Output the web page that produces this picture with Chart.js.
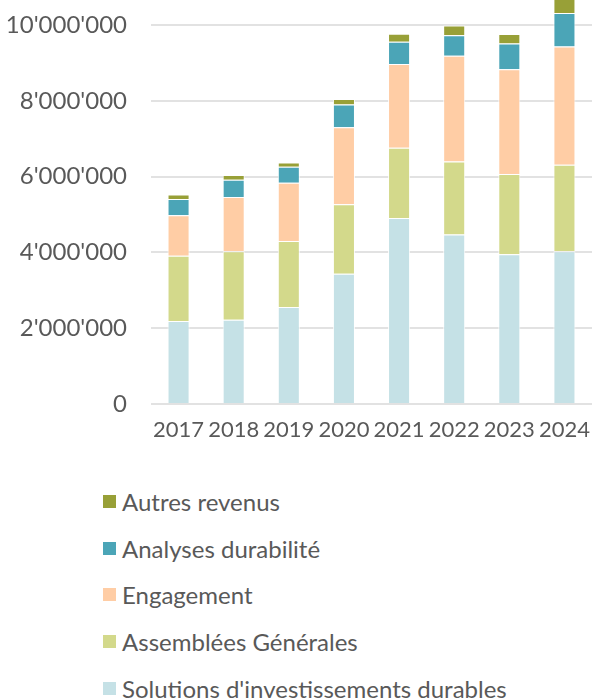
<!DOCTYPE html>
<html>
<head>
<meta charset="utf-8">
<script src="https://cdn.jsdelivr.net/npm/chart.js@4.4.1/dist/chart.umd.min.js"></script>
<style>
  html, body { margin: 0; padding: 0; background: #fff; }
  #wrap { position: relative; width: 592px; height: 698px; overflow: hidden; }
  #box { position: absolute; left: 0; top: 0; width: 592px; height: 450px; }
  #legend { position: absolute; left: 103px; top: 478px; font-family: Lato, "Open Sans", sans-serif; font-size: 24px; color: #595959; }
  .item { display: flex; align-items: center; height: 46.75px; white-space: nowrap; }
  .sw { width: 13px; height: 13px; margin-right: 6px; flex: none; }
</style>
</head>
<body>
<div id="wrap">
  <div id="box"><canvas id="chart"></canvas></div>
  <div id="legend"></div>
</div>
<script>
const years = ["2017", "2018", "2019", "2020", "2021", "2022", "2023", "2024"];

// values (CHF)
const solutions = [2190000, 2220000, 2560000, 3440000, 4910000, 4470000, 3950000, 4030000];
const assemblees = [1720000, 1810000, 1740000, 1830000, 1850000, 1930000, 2120000, 2280000];
const engagement = [1070000, 1430000, 1540000, 2030000, 2210000, 2790000, 2760000, 3120000];
const analyses = [430000, 460000, 420000, 600000, 590000, 540000, 680000, 890000];
const autres = [120000, 120000, 110000, 150000, 210000, 260000, 250000, 450000];

const yTicks = [0, 2000000, 4000000, 6000000, 8000000, 10000000];

const COLORS = {
  solutions: "#C5E1E6",
  assemblees: "#D3D98B",
  engagement: "#FFCDA5",
  analyses: "#4BA5B7",
  autres: "#98A037",
  text: "#595959",
  grid: "#E2E2E2"
};

const FONT = 'Lato, "Open Sans", sans-serif';

function fmt(v) {
  return String(v).replace(/\B(?=(\d{3})+(?!\d))/g, "'");
}

function barSet(label, data, color) {
  return {
    label,
    data,
    backgroundColor: color,
    borderColor: "rgba(255,255,255,0.85)",
    borderWidth: 1,
    barPercentage: 0.4,
    categoryPercentage: 1
  };
}

const chart = new Chart(document.getElementById("chart"), {
  type: "bar",
  data: {
    labels: years,
    datasets: [
      barSet("Solutions d'investissements durables", solutions, COLORS.solutions),
      barSet("Assemblées Générales", assemblees, COLORS.assemblees),
      barSet("Engagement", engagement, COLORS.engagement),
      barSet("Analyses durabilité", analyses, COLORS.analyses),
      barSet("Autres revenus", autres, COLORS.autres)
    ]
  },
  options: {
    responsive: true,
    maintainAspectRatio: false,
    animation: false,
    layout: { padding: 0 },
    plugins: {
      legend: { display: false },
      tooltip: { enabled: false }
    },
    scales: {
      x: {
        stacked: true,
        grid: { display: false, drawTicks: false },
        border: { display: false },
        ticks: {
          color: COLORS.text,
          font: { family: FONT, size: 22 },
          padding: 13,
          maxRotation: 0,
          minRotation: 0,
          autoSkip: false
        },
        afterFit(scale) { scale.height = 46; scale.paddingLeft = 0; scale.paddingRight = 0; }
      },
      y: {
        stacked: true,
        min: 0,
        max: 10660000,
        ticks: {
          stepSize: 2000000,
          color: COLORS.text,
          font: { family: FONT, size: 24 },
          padding: 24,
          callback: (v) => fmt(v)
        },
        afterBuildTicks(scale) {
          scale.ticks = yTicks.map((value) => ({ value }));
        },
        grid: { color: COLORS.grid, lineWidth: 2, drawTicks: false },
        border: { display: false },
        afterFit(scale) { scale.width = 151; scale.paddingTop = 0; scale.paddingBottom = 0; }
      }
    }
  }
});

// legend, top of stack first
const legend = document.getElementById("legend");
chart.data.datasets.slice().reverse().forEach((ds) => {
  const item = document.createElement("div");
  item.className = "item";
  const sw = document.createElement("span");
  sw.className = "sw";
  sw.style.background = ds.backgroundColor;
  const txt = document.createElement("span");
  txt.textContent = ds.label;
  item.appendChild(sw);
  item.appendChild(txt);
  legend.appendChild(item);
});
</script>
</body>
</html>
